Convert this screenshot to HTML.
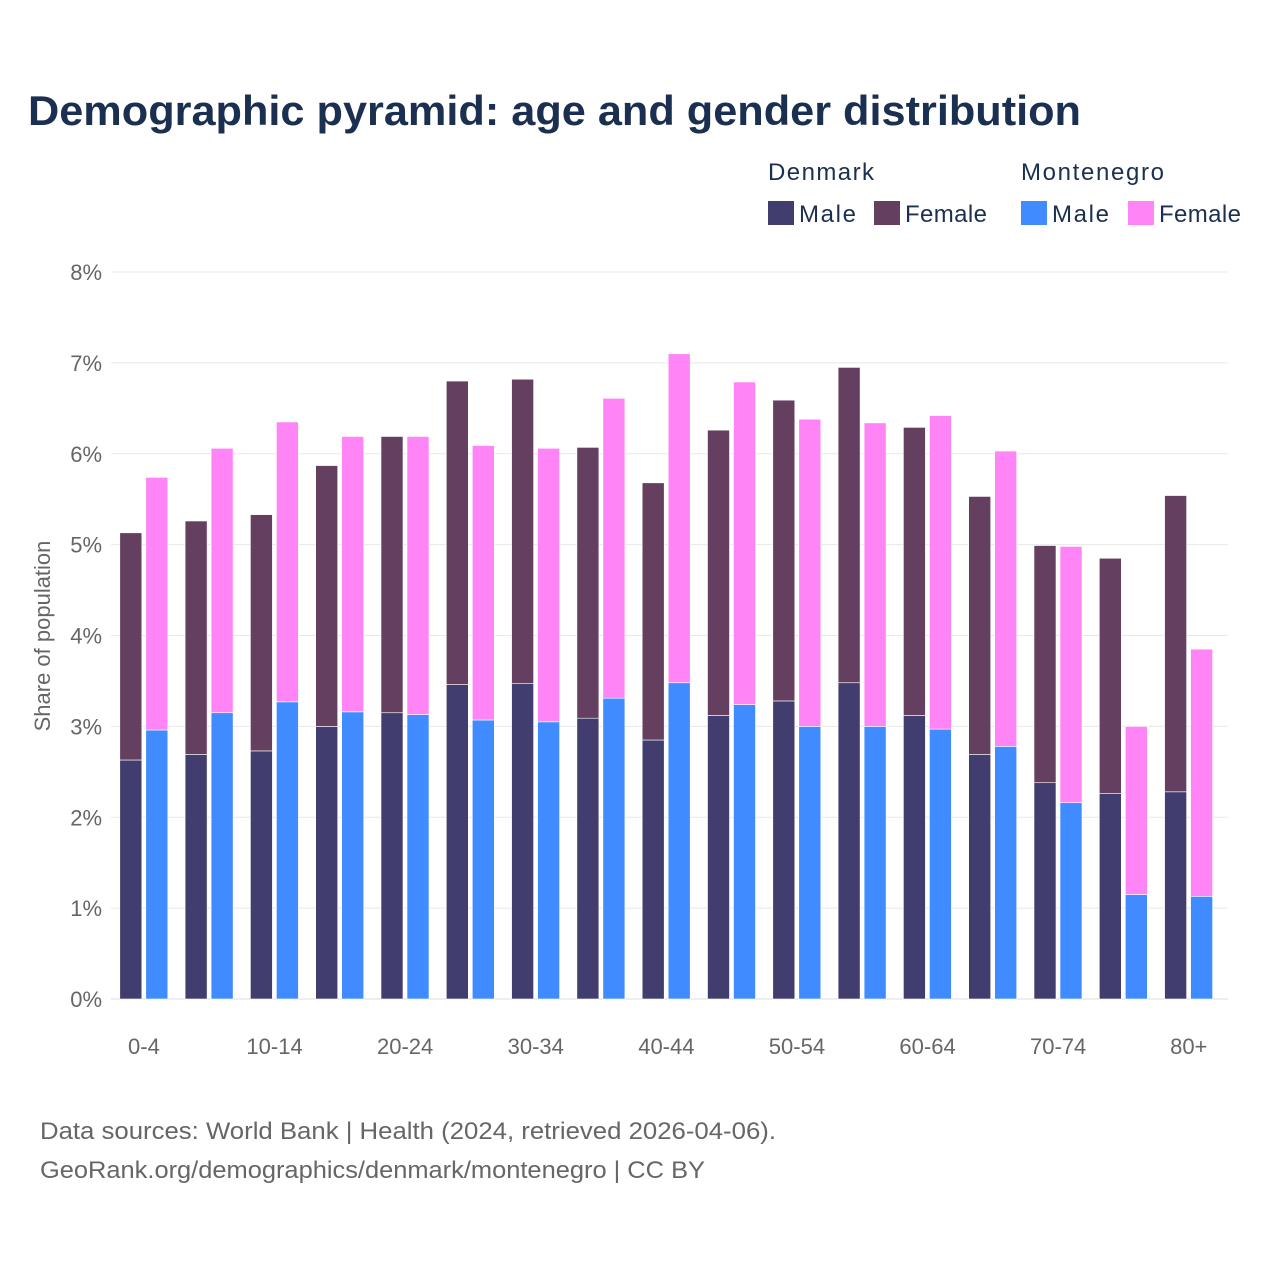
<!DOCTYPE html>
<html><head><meta charset="utf-8"><style>
body{margin:0;background:#fff;font-family:"Liberation Sans",sans-serif}
svg text{font-family:"Liberation Sans",sans-serif}
</style></head><body>
<svg id="c" width="1280" height="1280" viewBox="0 0 1280 1280">
<rect width="1280" height="1280" fill="#fff"/>
<text x="28" y="125" font-size="42" font-weight="bold" fill="#1b3050" textLength="1053" lengthAdjust="spacingAndGlyphs">Demographic pyramid: age and gender distribution</text>
<g font-size="24" fill="#1b3050">
<text x="768" y="180" textLength="106">Denmark</text>
<text x="1021" y="180" textLength="143">Montenegro</text>
<rect x="768" y="201" width="26" height="24" fill="#413d6e"/>
<text x="799" y="222" textLength="57">Male</text>
<rect x="874" y="201" width="26" height="24" fill="#653f60"/>
<text x="905" y="222" textLength="82">Female</text>
<rect x="1021" y="201" width="26" height="24" fill="#3f8bff"/>
<text x="1052" y="222" textLength="57">Male</text>
<rect x="1128" y="201" width="26" height="24" fill="#ff85f7"/>
<text x="1159" y="222" textLength="82">Female</text>
</g>
<g id="grid"></g><g id="bars"></g><g id="xl"></g>
<text transform="translate(50,636) rotate(-90)" text-anchor="middle" font-size="22" fill="#666">Share of population</text>
<text x="40" y="1139" font-size="24" fill="#666" textLength="736" lengthAdjust="spacingAndGlyphs">Data sources: World Bank | Health (2024, retrieved 2026-04-06).</text>
<text x="40" y="1178" font-size="24" fill="#666" textLength="665" lengthAdjust="spacingAndGlyphs">GeoRank.org/demographics/denmark/montenegro | CC BY</text>
</svg>
<script>
const categories=["0-4","5-9","10-14","15-19","20-24","25-29","30-34","35-39","40-44","45-49","50-54","55-59","60-64","65-69","70-74","75-79","80+"];
const dkMale=[2.63,2.69,2.73,3.00,3.15,3.46,3.47,3.09,2.85,3.12,3.28,3.48,3.12,2.69,2.38,2.26,2.28];
const dkFemale=[2.50,2.57,2.60,2.87,3.04,3.34,3.35,2.98,2.83,3.14,3.31,3.47,3.17,2.84,2.61,2.59,3.26];
const mnMale=[2.96,3.15,3.27,3.16,3.13,3.07,3.05,3.31,3.48,3.24,3.00,3.00,2.97,2.78,2.16,1.15,1.13];
const mnFemale=[2.78,2.91,3.08,3.03,3.06,3.02,3.01,3.30,3.62,3.55,3.38,3.34,3.45,3.25,2.82,1.85,2.72];
const yTicks=[0,1,2,3,4,5,6,7,8];
const NS="http://www.w3.org/2000/svg";
const y0=999,pxPer=90.875,left=111.3,step=65.3;
const Y=v=>y0-v*pxPer;
const X=i=>left+i*step;
function mk(t,a,p){const e=document.createElementNS(NS,t);for(const k in a)e.setAttribute(k,a[k]);p.appendChild(e);return e;}
const grid=document.getElementById('grid');
yTicks.forEach(t=>{
 const l=mk('line',{x1:111,x2:1228,y1:Y(t),y2:Y(t),stroke:t===0?'#ddd':'#e8e8e8','stroke-width':1},grid);
 
 
 const tx=mk('text',{x:102,y:Y(t)+8,'text-anchor':'end','font-size':22,fill:'#666'},grid);
 tx.textContent=t+'%';
 
 
});
const bars=document.getElementById('bars');
function bar(x,v0,v1,c,n){
 const r=mk('rect',{x:x,y:Y(v1),width:22,height:Y(v0)-Y(v1),fill:c,stroke:'#fff','stroke-width':0.6},bars);
 
 
}
categories.forEach((c,i)=>{
 const x=X(i);
 bar(x+8.5,0,dkMale[i],'#413d6e','bar-dk-male');
 bar(x+8.5,dkMale[i],dkMale[i]+dkFemale[i],'#653f60','bar-dk-female');
 bar(x+34.5,0,mnMale[i],'#3f8bff','bar-mn-male');
 bar(x+34.5,mnMale[i],mnMale[i]+mnFemale[i],'#ff85f7','bar-mn-female');
 if(i%2===0){
  const t=mk('text',{x:x+step/2,y:1054,'text-anchor':'middle','font-size':22,fill:'#666'},document.getElementById('xl'));
  t.textContent=c;
  
  
 }
});
</script>
</body></html>
